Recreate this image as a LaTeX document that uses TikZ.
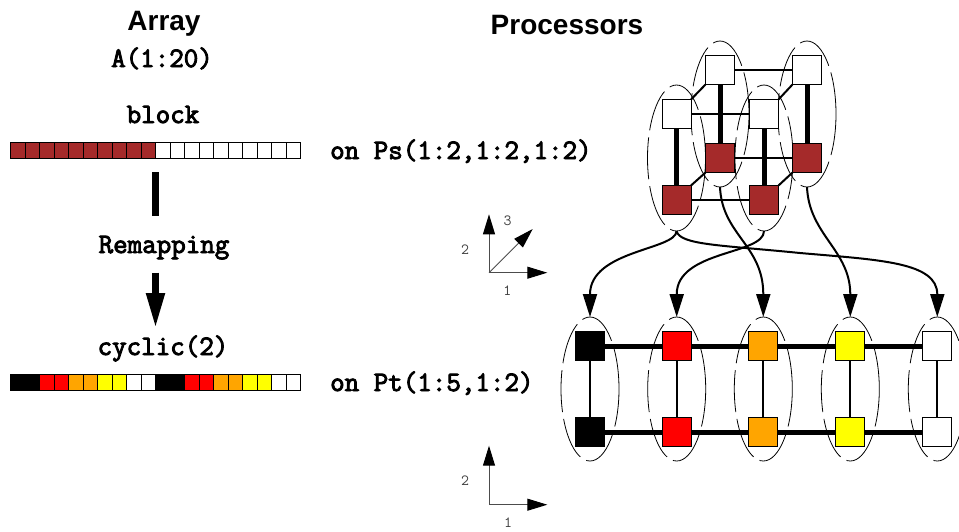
\documentclass[tikz,border=0pt]{standalone}
\usepackage{fontspec}
\setmainfont{Liberation Sans}
\newfontfamily\courb{Latin Modern Mono}[FakeBold=3.2]
\usetikzlibrary{arrows.meta,shapes.geometric}
\newcommand{\mono}{\courb\fontsize{28.2}{28.2}\selectfont}
\tikzset{
  x=1pt,y=-1pt,
  pe/.style={draw=black,line width=1pt,minimum size=29pt,inner sep=0pt,outer sep=0pt},
  grp/.style={ellipse,draw=black,line width=0.8pt,dash pattern=on 42pt off 7pt,minimum width=58pt,minimum height=146pt,inner sep=0pt,outer sep=0pt},
  cell/.style={draw=black,line width=1pt},
  thickedge/.style={line width=5pt},
  thinedge/.style={line width=2pt},
  mapcurve/.style={line width=2pt,-{Triangle[length=23pt,width=14pt]}},
  axisline/.style={line width=1pt,draw=black!70,-{Triangle[length=20pt,width=12pt,fill=black,color=black]}},
  title/.style={font=\bfseries\fontsize{28}{28}\selectfont,anchor=base,inner sep=0pt},
  code/.style={font=\mono,anchor=base,inner sep=0pt},
  codel/.style={font=\mono,anchor=base west,inner sep=0pt},
  axlabel/.style={font=\ttfamily\fontsize{15.5}{15.5}\selectfont,text=black!75,inner sep=0pt},
}
\definecolor{brn}{RGB}{165,42,42}
\definecolor{org}{RGB}{255,165,0}
\definecolor{ylw}{RGB}{255,255,0}
\definecolor{rd}{RGB}{255,0,0}
\begin{document}
\begin{tikzpicture}
\useasboundingbox (0,0) rectangle (959,531);
% texts
\node[title] (tarr) at (164,30) {Array};
\node[title] (tproc) at (567,34) {Processors};
\node[code] (ta) at (162,67) {A(1:20)};
\node[code] (tb) at (163,123) {block};
\node[code] (tr) at (164,253) {Remapping};
\node[code] (tc) at (163,355) {cyclic(2)};
\node[codel] (ps) at (330,159) {on Ps(1:2,1:2,1:2)};
\node[codel] (pt) at (330,391) {on Pt(1:5,1:2)};
% arrays
\foreach \i in {0,...,19}{
  \pgfmathsetmacro{\xa}{10.7+14.5*\i}
  \pgfmathsetmacro{\xb}{\xa+14.5}
  \ifnum\i<10 \def\c{brn}\else\def\c{white}\fi
  \filldraw[cell,fill=\c] (\xa,142.7) rectangle (\xb,158);
}
\foreach \i/\c in {0/black,1/black,2/rd,3/rd,4/org,5/org,6/ylw,7/ylw,8/white,9/white,10/black,11/black,12/rd,13/rd,14/org,15/org,16/ylw,17/ylw,18/white,19/white}{
  \pgfmathsetmacro{\xa}{10.7+14.5*\i}
  \pgfmathsetmacro{\xb}{\xa+14.5}
  \filldraw[cell,fill=\c] (\xa,374.7) rectangle (\xb,390);
}
% remapping bar and arrow
\coordinate (b1) at (155.5,172.3); \coordinate (b2) at (155.5,215.7);
\draw[line width=6.5pt] (b1) -- (b2);
\coordinate (r1) at (155.5,272.7); \coordinate (r2) at (155.5,328);
\draw[line width=6.5pt,-{Triangle[length=35pt,width=17.5pt]}] (r1) -- (r2);
% ellipses 3D
\node[grp] (e1) at (676.5,158) {};
\node[grp] (e2) at (764,158) {};
\node[grp] (e3) at (720,114) {};
\node[grp] (e4) at (807,114) {};
% ellipses 2D
\foreach \n/\x in {f1/590,f2/676.7,f3/763.3,f4/850.3,f5/937.3}
  \node[grp,minimum height=144pt] (\n) at (\x,389) {};
% PEs 3D
\node[pe,fill=white] (btl) at (720,70) {};
\node[pe,fill=white] (btr) at (807,70) {};
\node[pe,fill=white] (ftl) at (676.5,114) {};
\node[pe,fill=white] (ftr) at (764,114) {};
\node[pe,fill=brn] (bbl) at (720,158) {};
\node[pe,fill=brn] (bbr) at (807,158) {};
\node[pe,fill=brn] (fbl) at (676.5,200) {};
\node[pe,fill=brn] (fbr) at (764,200) {};
% PEs 2D
\foreach \n/\x/\c in {1/590/black,2/676.7/rd,3/763.3/org,4/850.3/ylw,5/937.3/white}{
  \node[pe,fill=\c] (u\n) at (\x,346) {};
  \node[pe,fill=\c] (l\n) at (\x,432.3) {};
}
% edges 3D
\draw[thinedge] (btl.east) -- (btr.west);
\draw[thinedge] (ftl.east) -- (ftr.west);
\draw[thinedge] (bbl.east) -- (bbr.west);
\draw[thinedge] (fbl.east) -- (fbr.west);
\draw[thickedge] (btl.south) -- (bbl.north);
\draw[thickedge] (btr.south) -- (bbr.north);
\draw[thickedge] (ftl.south) -- (fbl.north);
\draw[thickedge] (ftr.south) -- (fbr.north);
\draw[thinedge] (ftl.north east) -- (btl.south west);
\draw[thinedge] (ftr.north east) -- (btr.south west);
\draw[thinedge] (fbl.north east) -- (bbl.south west);
\draw[thinedge] (fbr.north east) -- (bbr.south west);
% edges 2D
\foreach \a/\b in {1/2,2/3,3/4,4/5}{
  \draw[thickedge] (u\a.east) -- (u\b.west);
  \draw[thickedge] (l\a.east) -- (l\b.west);
}
\foreach \a in {1,...,5}
  \draw[thinedge] (u\a.south) -- (l\a.north);
% mapping curves
\draw[mapcurve] (e1.south) .. controls (676.5,250) and (590,250) .. (f1.north);
\draw[mapcurve] (e1.south) .. controls (680,245) and (720,245) .. (800,253) .. controls (880,260) and (937.3,262) .. (f5.north);
\draw[mapcurve] (e2.south) .. controls (764,255) and (676.7,250) .. (f2.north);
\draw[mapcurve] (e3.south) .. controls (722,235) and (763.3,245) .. (f3.north);
\draw[mapcurve] (e4.south) .. controls (809,235) and (850.3,250) .. (f4.north);
% axes
\coordinate (o1) at (489,272.7);
\coordinate (o1u) at (489,214.3);
\coordinate (o1r) at (547.3,272.7);
\coordinate (o1d) at (532.7,229);
\draw[axisline] (o1) -- (o1u);
\draw[axisline] (o1) -- (o1r);
\draw[axisline] (o1) -- (o1d);
\node[axlabel] (l3) at (507.7,221) {3};
\node[axlabel] (l2) at (465,249.3) {2};
\node[axlabel] (l1) at (507.3,290.7) {1};
\coordinate (o2) at (489,504.7);
\coordinate (o2u) at (489,445.7);
\coordinate (o2r) at (547.3,504.7);
\draw[axisline] (o2) -- (o2u);
\draw[axisline] (o2) -- (o2r);
\node[axlabel] (m2) at (465,481) {2};
\node[axlabel] (m1) at (508,523) {1};
\end{tikzpicture}
\end{document}
